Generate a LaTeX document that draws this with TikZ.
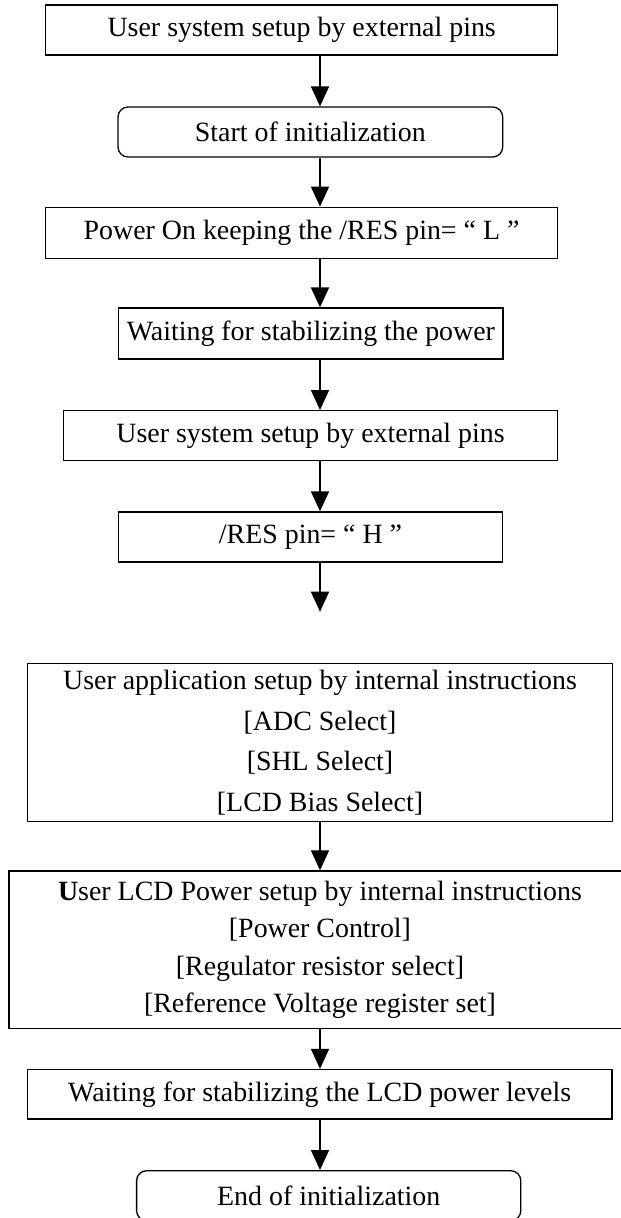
\documentclass[tikz,border=0pt]{standalone}
\usepackage{fontspec}
\setmainfont{Liberation Serif}
\usetikzlibrary{arrows.meta}
\tikzset{
  box/.style={draw, line width=1.3pt, inner sep=0pt, align=center,
    font=\fontsize{27.9}{40.7}\selectfont},
  rbox/.style={box, rounded corners=10pt},
  arr/.style={line width=1.6pt, -{Triangle[length=20pt,width=18pt]}},
}
\begin{document}
\begin{tikzpicture}[x=1pt,y=-1pt]
\useasboundingbox (0,0) rectangle (621,1218);
\clip (0,0) rectangle (621,1218);
\coordinate (ax) at (320,0);
\node[box, minimum width=512pt, minimum height=50pt] (b1) at (301.7,30) {User system setup by external pins};
\node[rbox, minimum width=384.7pt, minimum height=50pt] (b2) at (310.35,132) {Start of initialization};
\node[box, minimum width=512.1pt, minimum height=51pt] (b3) at (301.55,232.8) {Power On keeping the /RES pin= “ L ”};
\node[box, minimum width=384.2pt, minimum height=51pt] (b4) at (310.9,333.5) {Waiting for stabilizing the power};
\node[box, minimum width=494.4pt, minimum height=50pt] (b5) at (310.5,435.7) {User system setup by external pins};
\node[box, minimum width=384.4pt, minimum height=50pt] (b6) at (310.5,537) {/RES pin= “ H ”};
\coordinate (f6) at (320,611.7);
\node[box, minimum width=585.4pt, minimum height=158.2pt] (b7) at (320,742.6)
  {User application setup by internal instructions\\{}[ADC Select]\\{}[SHL Select]\\{}[LCD Bias Select]};
\node[box, minimum width=622pt, minimum height=157.5pt, font=\fontsize{27.9}{37.6}\selectfont] (b8) at (320,949.75)
  {\textbf{U}ser LCD Power setup by internal instructions\\{}[Power Control]\\{}[Regulator resistor select]\\{}[Reference Voltage register set]};
\node[box, minimum width=584.7pt, minimum height=49.5pt] (b9) at (319.65,1094.25) {Waiting for stabilizing the LCD power levels};
\node[rbox, minimum width=384.2pt, minimum height=50pt] (b10) at (328.7,1195.7) {End of initialization};
\draw[arr] (b1.south -| ax) -- (b2.north -| ax);
\draw[arr] (b2.south -| ax) -- (b3.north -| ax);
\draw[arr] (b3.south -| ax) -- (b4.north -| ax);
\draw[arr] (b4.south -| ax) -- (b5.north -| ax);
\draw[arr] (b5.south -| ax) -- (b6.north -| ax);
\draw[arr] (b6.south -| ax) -- (f6);
\draw[arr] (b7.south -| ax) -- (b8.north -| ax);
\draw[arr] (b8.south -| ax) -- (b9.north -| ax);
\draw[arr] (b9.south -| ax) -- (b10.north -| ax);
\end{tikzpicture}
\end{document}
